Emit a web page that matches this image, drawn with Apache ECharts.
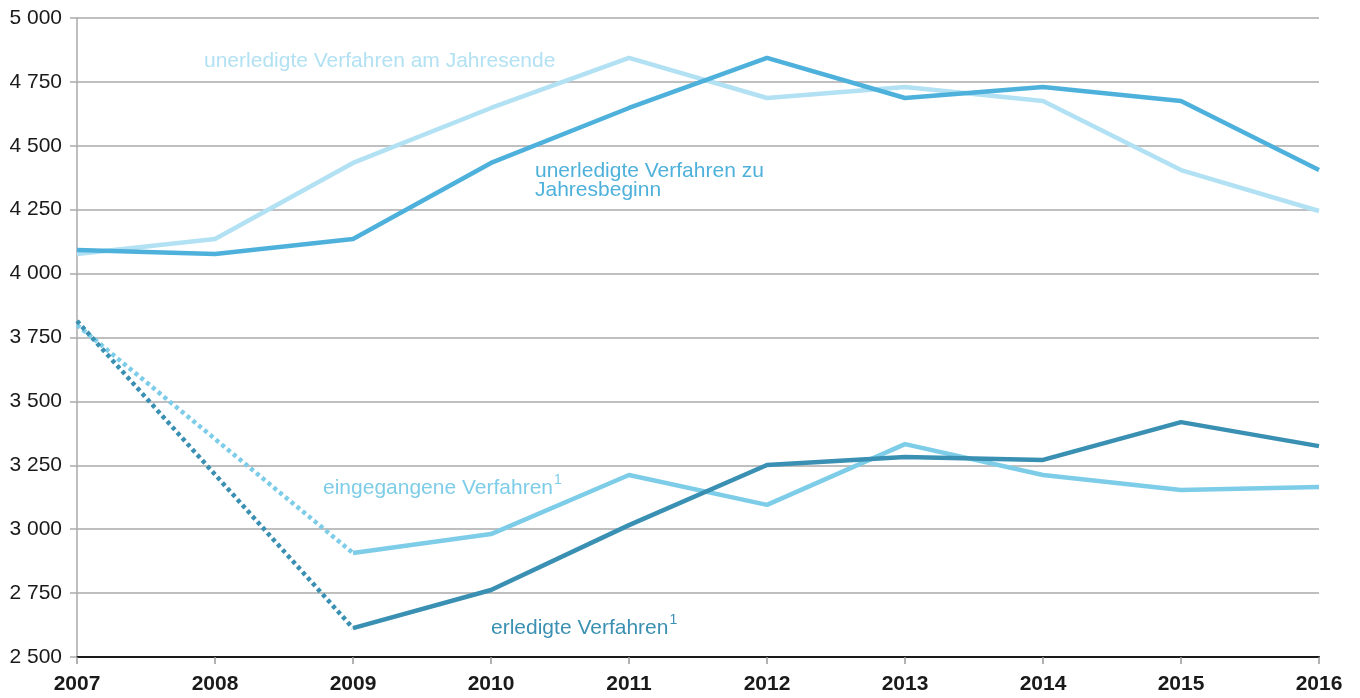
<!DOCTYPE html>
<html>
<head>
<meta charset="utf-8">
<script src="https://cdn.jsdelivr.net/npm/echarts@6/dist/echarts.min.js"></script>
<style>html,body{margin:0;padding:0;background:#fff}#c{width:1360px;height:698px}</style>
</head>
<body>
<div id="c"></div>
<script>
var years = ['2007','2008','2009','2010','2011','2012','2013','2014','2015','2016'];
var yTicks = [2500, 5000, 250];
var endeYear = [4077, 4135, 4433, 4648, 4844, 4687, 4730, 4675, 4405, 4245];
var beginYear = [4092, 4077, 4135, 4433, 4648, 4844, 4687, 4730, 4675, 4405];
var eingDotted = [3799, '-', 2907, '-', '-', '-', '-', '-', '-', '-'];
var eingSolid = ['-', '-', 2907, 2981, 3212, 3095, 3333, 3212, 3153, 3165];
var erlDotted = [3815, '-', 2613, '-', '-', '-', '-', '-', '-', '-'];
var erlSolid = ['-', '-', 2613, 2762, 3016, 3251, 3282, 3271, 3419, 3325];

var cEnde = '#b2e1f3', cBegin = '#4eb1db', cEing = '#7dcce8', cErl = '#3a90b2';
var font = '"Liberation Sans", Arial, Helvetica, sans-serif';

var chart = echarts.init(document.getElementById('c'));
function line(name, data, color, dotted, z) {
  return {
    name: name, type: 'line', data: data, connectNulls: dotted,
    symbol: 'none', z: z, animation: false,
    lineStyle: { color: color, width: 4.5, type: dotted ? [4, 3.5] : 'solid', cap: 'butt' }
  };
}
function sup(txt, color) {
  return {
    text: '{a|' + txt + '}{s|1}', fill: color,
    rich: {
      a: { fontSize: 21, fontFamily: font, fill: color, verticalAlign: 'bottom', lineHeight: 26 },
      s: { fontSize: 14, fontFamily: font, fill: color, verticalAlign: 'top', lineHeight: 26, padding: [0, 0, 11, 1] }
    }
  };
}
chart.setOption({
  animation: false,
  grid: { left: 77, right: 41, top: 18, bottom: 41, containLabel: false },
  xAxis: {
    type: 'category', data: years, boundaryGap: false,
    axisLine: { lineStyle: { color: '#1a1a1a', width: 2 } },
    axisTick: { show: true, length: 7, lineStyle: { color: '#999', width: 1.5 } },
    axisLabel: { color: '#1a1a1a', fontFamily: font, fontSize: 21, fontWeight: 'bold', margin: 17 },
    splitLine: { show: false }
  },
  yAxis: {
    type: 'value', min: yTicks[0], max: yTicks[1], interval: yTicks[2],
    axisLine: { show: true, lineStyle: { color: '#aaa', width: 1.5 } },
    axisTick: { show: true, length: 7, lineStyle: { color: '#aaa', width: 1.5 } },
    axisLabel: { color: '#1a1a1a', fontFamily: font, fontSize: 21, margin: 15,
      formatter: function (v) { return String(v).replace(/\B(?=(\d{3})+(?!\d))/g, ' '); } },
    splitLine: { lineStyle: { color: '#aaa', width: 1.5 } }
  },
  series: [
    line('unerledigte Verfahren am Jahresende', endeYear, cEnde, false, 2),
    line('unerledigte Verfahren zu Jahresbeginn', beginYear, cBegin, false, 3),
    line('eingegangene Verfahren dotted', eingDotted, cEing, true, 4),
    line('eingegangene Verfahren', eingSolid, cEing, false, 4),
    line('erledigte Verfahren dotted', erlDotted, cErl, true, 5),
    line('erledigte Verfahren', erlSolid, cErl, false, 5)
  ],
  graphic: [
    { type: 'text', left: 204, top: 51, z: 10, style: { text: 'unerledigte Verfahren am Jahresende', fill: cEnde, font: '21px ' + font } },
    { type: 'text', left: 535, top: 161, z: 10, style: { text: 'unerledigte Verfahren zu\nJahresbeginn', fill: cBegin, font: '21px ' + font, lineHeight: 19 } },
    { type: 'text', left: 323, top: 473, z: 10, style: sup('eingegangene Verfahren', cEing) },
    { type: 'text', left: 491, top: 613, z: 10, style: sup('erledigte Verfahren', cErl) }
  ]
});
</script>
</body>
</html>
